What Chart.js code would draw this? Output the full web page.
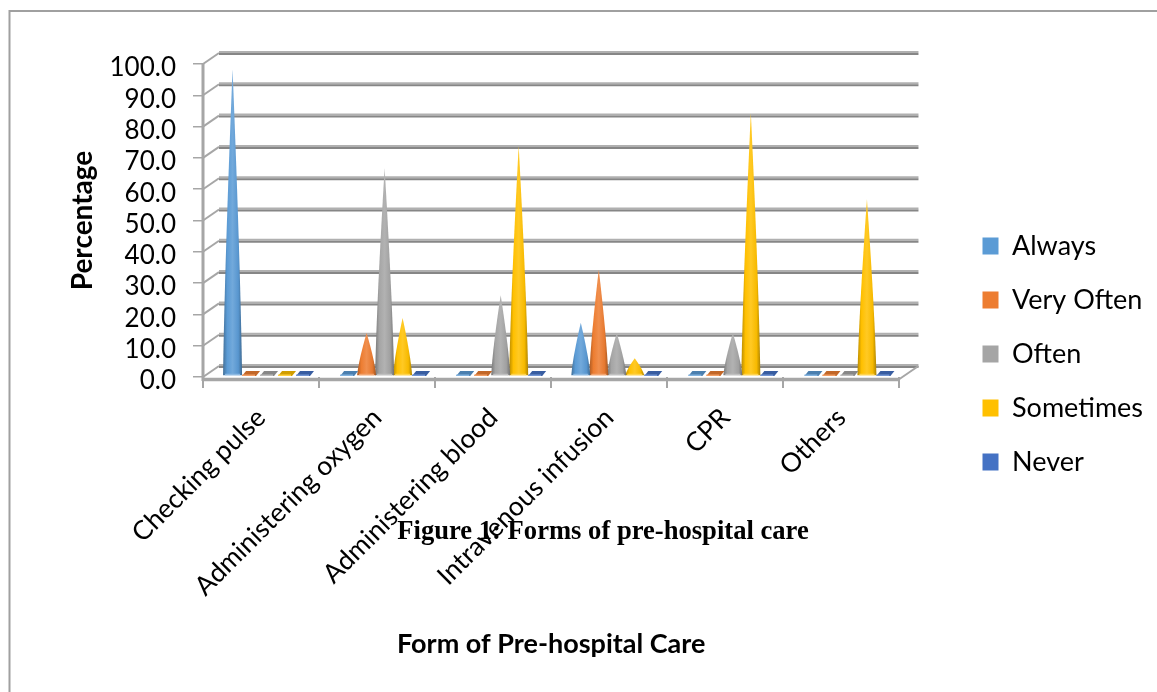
<!DOCTYPE html>
<html><head><meta charset="utf-8">
<style>html,body{margin:0;padding:0;background:#fff}canvas{display:block}</style>
<script src="https://cdn.jsdelivr.net/npm/chart.js@4"></script>
</head><body><canvas id="c" width="1157" height="692"></canvas>
<script>
const categories = ["Checking pulse","Administering oxygen","Administering blood","Intravenous infusion","CPR","Others"];
const always    = [98, 0, 0, 17, 0, 0];
const veryOften = [0, 13.7, 0, 34, 0, 0];
const often     = [0, 66.4, 25.8, 13.7, 13.7, 0];
const sometimes = [0, 18.5, 73.5, 5.7, 84, 56.5];
const never     = [0, 0, 0, 0, 0, 0];
const yMax = 100, yStep = 10;
const figureCaption = "Figure 1: Forms of pre-hospital care";

const FONT = "Lato, Carlito, sans-serif";
const DX = 7.5, DY = -1, BACK_X = 16, BACK_Y = -11;

function shade(hex, f){
  const n = parseInt(hex.slice(1),16);
  const c = [n>>16&255, n>>8&255, n&255].map(v => f<1 ? v*f : v+(255-v)*(f-1));
  return `rgb(${c.map(Math.round).join(",")})`;
}
Chart.BarElement.prototype.draw = function(ctx){
  const {x,y,base,width} = this.getProps(["x","y","base","width"]);
  const col = this.options.backgroundColor, cx = x+DX, b = base+DY, w = width+1;
  ctx.save();
  if (Math.abs(base-y) < 1){
    ctx.fillStyle = shade(col,0.82);
    ctx.beginPath();
    ctx.moveTo(cx-w/2+1,b); ctx.lineTo(cx+w/2-4,b); ctx.lineTo(cx+w/2,b-5); ctx.lineTo(cx-w/2+5,b-5);
    ctx.closePath(); ctx.fill();
    ctx.fillStyle = shade(col,1.25);
    ctx.fillRect(cx-w/2+1,b-1.5,w-6,1.5);
  } else {
    const g = ctx.createLinearGradient(cx-w/2,0,cx+w/2,0);
    g.addColorStop(0,shade(col,0.72));
    g.addColorStop(0.22,shade(col,1.0));
    g.addColorStop(0.5,shade(col,1.14));
    g.addColorStop(0.8,shade(col,0.97));
    g.addColorStop(1,shade(col,0.68));
    ctx.fillStyle = g;
    const tip = y+DY, mid = b-(b-tip)*0.35;
    ctx.beginPath();
    ctx.moveTo(cx-w/2,b);
    ctx.quadraticCurveTo(cx-w*0.42,mid,cx,tip);
    ctx.quadraticCurveTo(cx+w*0.42,mid,cx+w/2,b);
    ctx.closePath(); ctx.fill();
    ctx.fillStyle = shade(col,1.3);
    ctx.fillRect(cx-w/2+2,b-1.5,w-4,1.5);
  }
  ctx.restore();
};

const wall = {
  id:"wall",
  afterLayout(chart){
    const l = chart.legend;
    const h = l.bottom-l.top, w = l.right-l.left;
    l.top = 354-h/2; l.bottom = l.top+h;
    l.left = 955.5; l.right = l.left+w;
  },
  beforeDraw(chart){
    chart.scales.y.getLabelItems().forEach(i=>{ i.options.translation[1] += 4; });
  },
  beforeDatasetsDraw(chart){
    const {ctx,scales:{y,x}} = chart, area = chart.chartArea;
    const L = area.left, R = area.right;
    ctx.save();
    y.ticks.forEach(t=>{
      const p = y.getPixelForValue(t.value);
      ctx.strokeStyle="#a6a6a6"; ctx.lineWidth=2;
      ctx.beginPath(); ctx.moveTo(L,p); ctx.lineTo(L+BACK_X,p+BACK_Y); ctx.stroke();
      ctx.strokeStyle="#b0b0b0"; ctx.lineWidth=2;
      ctx.beginPath(); ctx.moveTo(L+BACK_X,p+BACK_Y-1); ctx.lineTo(R+19,p+BACK_Y-1); ctx.stroke();
      ctx.strokeStyle="#868686";
      ctx.beginPath(); ctx.moveTo(L+BACK_X,p+BACK_Y+1); ctx.lineTo(R+19,p+BACK_Y+1); ctx.stroke();
    });
    const b = y.getPixelForValue(0);
    ctx.strokeStyle="#a6a6a6"; ctx.lineWidth=2;
    ctx.beginPath(); ctx.moveTo(R,b+2); ctx.lineTo(R+19,b+BACK_Y); ctx.stroke();
    ctx.lineWidth=3.5; ctx.strokeStyle="#a6a6a6";
    ctx.beginPath(); ctx.moveTo(L-1,b+2.5); ctx.lineTo(R,b+2.5); ctx.stroke();
    ctx.lineWidth=3;
    ctx.beginPath(); ctx.moveTo(L,y.getPixelForValue(yMax)); ctx.lineTo(L,b+4); ctx.stroke();
    ctx.restore();
  },
  afterDraw(chart){
    const {ctx} = chart;
    ctx.save();
    ctx.strokeStyle="#a0a0a0"; ctx.lineWidth=2;
    ctx.beginPath(); ctx.moveTo(9.5,692); ctx.lineTo(9.5,11); ctx.lineTo(1157,11); ctx.stroke();
    ctx.fillStyle="#000"; ctx.font='bold 26.6px "Liberation Serif", serif';
    ctx.textAlign="center"; ctx.textBaseline="middle";
    ctx.fillText(figureCaption,603,532);
    ctx.restore();
  }
};

const mk = (label,data,color)=>({label,data,backgroundColor:color,borderWidth:0});
new Chart(document.getElementById("c"),{
  type:"bar",
  data:{labels:categories,datasets:[
    mk("Always",always,"#5B9BD5"),
    mk("Very Often",veryOften,"#ED7D31"),
    mk("Often",often,"#A5A5A5"),
    mk("Sometimes",sometimes,"#FFC000"),
    mk("Never",never,"#4472C4")
  ]},
  plugins:[wall],
  options:{
    responsive:false,animation:false,
    layout:{padding:{left:66,right:60,top:64,bottom:32}},
    datasets:{bar:{barPercentage:1,categoryPercentage:0.775}},
    plugins:{
      tooltip:{enabled:false},
      legend:{position:"right",align:"center",
        labels:{boxWidth:16,boxHeight:17,padding:27,color:"#000",font:{family:FONT,size:27}}}
    },
    scales:{
      x:{
        border:{display:false},
        grid:{drawOnChartArea:false,drawTicks:true,tickLength:11,color:"#a6a6a6",lineWidth:2},
        ticks:{minRotation:45,maxRotation:45,color:"#000",padding:14,font:{family:FONT,size:26.5},autoSkip:false},
        title:{display:true,text:"Form of Pre-hospital Care",color:"#000",font:{family:FONT,size:27,weight:"bold"},padding:{top:0,bottom:0}},
        afterFit(s){s.height=283;}
      },
      y:{
        min:0,max:yMax,
        border:{display:false},
        grid:{drawOnChartArea:false,drawTicks:true,tickLength:10,color:"#a6a6a6",lineWidth:1.5},
        ticks:{stepSize:yStep,autoSkip:false,color:"#000",padding:17,font:{family:FONT,size:26},callback:v=>v.toFixed(1)},
        title:{display:true,text:"Percentage",color:"#000",font:{family:FONT,size:28,weight:"bold"},padding:{top:0,bottom:0}},
        afterFit(s){s.width=137;}
      }
    }
  }
});
</script></body></html>
